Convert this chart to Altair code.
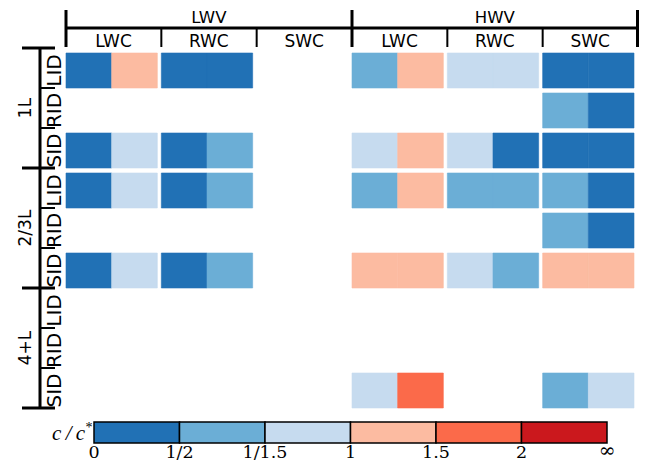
import altair as alt
import pandas as pd

# ---------------- data ----------------
volumes = ["LWV", "HWV"]
components = ["LWC", "RWC", "SWC"]
groups = ["1L", "2/3L", "4+L"]
id_types = ["LID", "RID", "SID"]

# one entry per filled cell: left half bin index, right half bin index
cell_volume = ["LWV", "LWV", "LWV", "LWV", "LWV", "LWV", "LWV", "LWV",
               "HWV", "HWV", "HWV", "HWV", "HWV", "HWV", "HWV", "HWV",
               "HWV", "HWV", "HWV", "HWV", "HWV", "HWV", "HWV", "HWV"]
cell_component = ["LWC", "RWC", "LWC", "RWC", "LWC", "RWC", "LWC", "RWC",
                  "LWC", "RWC", "SWC", "SWC", "LWC", "RWC", "SWC",
                  "LWC", "RWC", "SWC", "SWC", "LWC", "RWC", "SWC",
                  "LWC", "SWC"]
cell_group = ["1L", "1L", "1L", "1L", "2/3L", "2/3L", "2/3L", "2/3L",
              "1L", "1L", "1L", "1L", "1L", "1L", "1L",
              "2/3L", "2/3L", "2/3L", "2/3L", "2/3L", "2/3L", "2/3L",
              "4+L", "4+L"]
cell_id = ["LID", "LID", "SID", "SID", "LID", "LID", "SID", "SID",
           "LID", "LID", "LID", "RID", "SID", "SID", "SID",
           "LID", "LID", "LID", "RID", "SID", "SID", "SID",
           "SID", "SID"]
cell_left = [0, 0, 0, 0, 0, 0, 0, 0,
             1, 2, 0, 1, 2, 2, 0,
             1, 1, 1, 1, 3, 2, 3,
             2, 1]
cell_right = [3, 0, 2, 1, 2, 1, 2, 1,
              3, 2, 0, 0, 3, 0, 0,
              3, 1, 0, 0, 3, 1, 3,
              4, 2]

ratio_bins = ["0-1/2", "1/2-1/1.5", "1/1.5-1", "1-1.5", "1.5-2", "2-inf"]
bin_colors = ["#2171b5", "#6baed6", "#c6dbef", "#fcbba1", "#fb6a4a", "#cb181d"]
legend_ticks = ["0", "1/2", "1/1.5", "1", "1.5", "2", "\u221e"]

# ---------------- tables ----------------
col_order = [f"{v}|{c}" for v in volumes for c in components]
row_order = [f"{g}|{i}" for g in groups for i in id_types]

recs = []
for v, c, g, i, l, r in zip(cell_volume, cell_component, cell_group, cell_id, cell_left, cell_right):
    for half, b in (("a", l), ("b", r)):
        recs.append({"col": f"{v}|{c}", "row": f"{g}|{i}", "half": half, "bin": ratio_bins[b]})
cells_df = pd.DataFrame(recs)

W, H = 572, 360
SANS = "DejaVu Sans"
SERIF = "Liberation Serif"

x_scale = alt.Scale(domain=col_order, paddingInner=0.042, paddingOuter=0.021, align=0)
y_scale = alt.Scale(domain=row_order, paddingInner=0.125, paddingOuter=0.0625, align=1)
color_scale = alt.Scale(domain=ratio_bins, range=bin_colors)

one = pd.DataFrame({"k": [0]})

cells = alt.Chart(cells_df).mark_rect(strokeWidth=0.6).encode(
    x=alt.X("col:N", scale=x_scale, axis=None),
    xOffset=alt.XOffset("half:N", scale=alt.Scale(domain=["a", "b"], paddingInner=0, paddingOuter=0)),
    y=alt.Y("row:N", scale=y_scale, axis=None),
    color=alt.Color("bin:N", scale=color_scale, legend=None),
    stroke=alt.Stroke("bin:N", scale=color_scale, legend=None),
)

# top bracket
top_line = alt.Chart(one).mark_rule(strokeWidth=3, color="black").encode(
    x=alt.value(0), x2=alt.value(W - 0.5), y=alt.value(-20))
top_major = alt.Chart(pd.DataFrame({"col": [f"{v}|{components[0]}" for v in volumes]})).mark_rule(
    strokeWidth=3, color="black").encode(
    x=alt.X("col:N", scale=x_scale, bandPosition=0, axis=None),
    y=alt.value(-38), y2=alt.value(-1))
top_end = alt.Chart(one).mark_rule(strokeWidth=3, color="black").encode(
    x=alt.value(W - 0.5), y=alt.value(-38), y2=alt.value(-1))
top_minor = alt.Chart(pd.DataFrame({"col": [f"{v}|{c}" for v in volumes for c in components[1:]]})).mark_rule(
    strokeWidth=2, color="black").encode(
    x=alt.X("col:N", scale=x_scale, bandPosition=0, axis=None),
    y=alt.value(-20), y2=alt.value(-1))
vol_labels = alt.Chart(pd.DataFrame({"col": [f"{v}|{components[1]}" for v in volumes], "t": volumes})).mark_text(
    font=SANS, fontSize=16.5, baseline="middle", align="center", color="black").encode(
    x=alt.X("col:N", scale=x_scale, bandPosition=0.52, axis=None), y=alt.value(-30), text="t:N")
comp_labels = alt.Chart(pd.DataFrame({"col": col_order, "t": [c for v in volumes for c in components]})).mark_text(
    font=SANS, fontSize=17, baseline="middle", align="center", color="black").encode(
    x=alt.X("col:N", scale=x_scale, bandPosition=0.52, axis=None), y=alt.value(-6.5), text="t:N")

# left bracket
left_line = alt.Chart(one).mark_rule(strokeWidth=3, color="black").encode(
    x=alt.value(-26), y=alt.value(-1), y2=alt.value(H))
left_top = alt.Chart(one).mark_rule(strokeWidth=3, color="black").encode(
    x=alt.value(-44), x2=alt.value(-11), y=alt.value(0))
left_major = alt.Chart(pd.DataFrame({"row": [f"{g}|{id_types[-1]}" for g in groups]})).mark_rule(
    strokeWidth=3, color="black").encode(
    y=alt.Y("row:N", scale=y_scale, bandPosition=1, axis=None),
    x=alt.value(-44), x2=alt.value(-11))
left_minor = alt.Chart(pd.DataFrame({"row": [f"{g}|{i}" for g in groups for i in id_types[:-1]]})).mark_rule(
    strokeWidth=2, color="black").encode(
    y=alt.Y("row:N", scale=y_scale, bandPosition=1, axis=None),
    x=alt.value(-26), x2=alt.value(-11))
id_labels = alt.Chart(pd.DataFrame({"row": row_order, "t": [i for g in groups for i in id_types]})).mark_text(
    font=SANS, fontSize=20, baseline="middle", align="center", angle=270, color="black").encode(
    y=alt.Y("row:N", scale=y_scale, bandPosition=0.5, axis=None), x=alt.value(-11.5), text="t:N")
grp_labels = alt.Chart(pd.DataFrame({"row": [f"{g}|{id_types[1]}" for g in groups], "t": groups})).mark_text(
    font=SANS, fontSize=17, baseline="middle", align="center", angle=270, color="black").encode(
    y=alt.Y("row:N", scale=y_scale, bandPosition=0.43, axis=None), x=alt.value(-40), text="t:N")

main = alt.layer(cells, top_line, top_major, top_end, top_minor, vol_labels, comp_labels,
                 left_line, left_top, left_major, left_minor, id_labels, grp_labels)

# legend colour bar
leg_x = alt.Scale(domain=[0, len(ratio_bins)], range=[28, 541])
leg_df = pd.DataFrame({"bin": ratio_bins, "lo": list(range(len(ratio_bins))),
                       "hi": [i + 1 for i in range(len(ratio_bins))]})
leg_rects = alt.Chart(leg_df).mark_rect(stroke="black", strokeWidth=1.5).encode(
    x=alt.X("lo:Q", scale=leg_x, axis=None), x2="hi:Q",
    y=alt.value(374), y2=alt.value(395),
    color=alt.Color("bin:N", scale=color_scale, legend=None))
tick_df = pd.DataFrame({"pos": list(range(len(legend_ticks) - 1)), "t": legend_ticks[:-1]})
leg_ticks = alt.Chart(tick_df).mark_text(font="DejaVu Serif", fontSize=17.5, baseline="alphabetic",
                                         align="center", color="black").encode(
    x=alt.X("pos:Q", scale=leg_x, axis=None), y=alt.value(410), text="t:N")
inf_df = pd.DataFrame({"pos": [len(legend_ticks) - 1], "t": legend_ticks[-1:]})
leg_inf = alt.Chart(inf_df).mark_text(font="DejaVu Serif", fontSize=20, baseline="middle", align="center",
                                      color="black").encode(
    x=alt.X("pos:Q", scale=leg_x, axis=None), y=alt.value(403), text="t:N")
leg_title = alt.Chart(one).mark_text(font=SERIF, fontStyle="italic", fontSize=21, baseline="alphabetic",
                                     align="right", color="black", text="c\u2009/\u2009c").encode(
    x=alt.value(19), y=alt.value(392))
leg_star = alt.Chart(one).mark_text(font=SERIF, fontSize=14, baseline="middle",
                                    align="left", color="black", text="*").encode(
    x=alt.value(19.5), y=alt.value(380))
legend = alt.layer(leg_rects, leg_ticks, leg_inf, leg_title, leg_star)

chart = alt.layer(main, legend).resolve_scale(x="independent").properties(
    width=W, height=H,
    padding={"left": 58, "top": 40, "right": 1, "bottom": 53},
    autosize=alt.AutoSizeParams(type="none"),
).configure_view(stroke=None)

chart.save("out.html", embed_options={"renderer": "svg", "actions": False})
